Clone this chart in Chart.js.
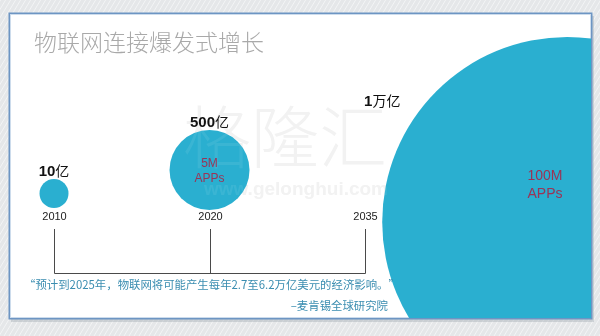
<!DOCTYPE html>
<html>
<head>
<meta charset="utf-8">
<script src="https://cdn.jsdelivr.net/npm/chart.js@4.4.1/dist/chart.umd.min.js"></script>
<style>
  html, body { margin: 0; padding: 0; background: #e6e8ea; }
  #wrap { width: 600px; height: 336px; }
</style>
</head>
<body>
<div id="wrap"><canvas id="c" width="600" height="336"></canvas></div>
<script>
// ---- data ----
const years = ['2010', '2020', '2035'];
const connections = ['10', '500', '1'];          // numeric part of each label
const connectionUnits = ['亿', '亿', '万亿'];
const appCounts = ['', '5M', '100M'];
const titleText = '物联网连接爆发式增长';
const quoteText = '“预计到2025年，物联网将可能产生每年2.7至6.2万亿美元的经济影响。”';
const quoteSource = '–麦肯锡全球研究院';

// ---- layout of the circles (timeline units on x, lift above slide bottom on y) ----
const bubbleLayout = [
  { x: 0,   y: 124.5, r: 14.5 },
  { x: 1,   y: 148,   r: 40 },
  { x: 3.3, y: 96,    r: 185 }
];
const appTextPos = [null, { x: 1, y: 147 }, { x: 3.157, y: 133 }];

const BUBBLE = '#2aafd0';
const APP_TEXT = '#9a3456';
const CJK = '"Noto Sans CJK SC", "Noto Sans", sans-serif';
const LATIN = '"Liberation Sans", Arial, sans-serif';

const slidePlugin = {
  id: 'slide',
  beforeDraw(chart) {
    const ctx = chart.ctx;
    const W = chart.width, H = chart.height;
    ctx.save();
    // textured grey backdrop
    ctx.fillStyle = '#e5e7e9';
    ctx.fillRect(0, 0, W, H);
    ctx.strokeStyle = 'rgba(255,255,255,0.55)';
    ctx.lineWidth = 1;
    for (let k = -H; k < W + H; k += 5) {
      ctx.beginPath();
      ctx.moveTo(k, H);
      ctx.lineTo(k + H * 0.6, 0);
      ctx.stroke();
    }
    // white panel with shadow and blue frame
    ctx.fillStyle = 'rgba(150,160,170,0.35)';
    ctx.fillRect(11, 16, 583, 306);
    ctx.fillStyle = '#ffffff';
    ctx.fillRect(9, 13, 583, 306);
    ctx.strokeStyle = '#6d95c3';
    ctx.lineWidth = 1.5;
    ctx.strokeRect(9.25, 13.25, 582.5, 305.5);
    ctx.strokeStyle = '#cddcec';
    ctx.lineWidth = 1;
    ctx.strokeRect(10.5, 14.5, 580, 303);

    // heading
    ctx.fillStyle = '#a9a9a9';
    ctx.font = '300 23px ' + CJK;
    ctx.textAlign = 'left';
    ctx.textBaseline = 'middle';
    ctx.fillText(titleText, 34, 42);

    // faint site mark
    ctx.fillStyle = 'rgba(200,200,200,0.26)';
    ctx.font = '200 68px ' + CJK;
    ctx.textAlign = 'center';
    ctx.fillText('格隆汇', 285, 137);
    ctx.font = 'bold 19px ' + LATIN;
    ctx.fillText('www.gelonghui.com', 296, 190);

    // timeline under the years
    const xs = chart.scales.x;
    const tx = years.map((_, i) => Math.round(xs.getPixelForValue(i)) + 0.5);
    ctx.strokeStyle = '#4a4a4a';
    ctx.lineWidth = 1;
    ctx.beginPath();
    tx.forEach(px => { ctx.moveTo(px, 229); ctx.lineTo(px, 273.5); });
    ctx.moveTo(tx[0], 273.5);
    ctx.lineTo(tx[tx.length - 1], 273.5);
    ctx.stroke();

    ctx.fillStyle = '#222';
    ctx.font = '11px ' + LATIN;
    ctx.textAlign = 'center';
    ctx.textBaseline = 'middle';
    years.forEach((y, i) => ctx.fillText(y, tx[i], 217));
    ctx.restore();
  },
  afterDatasetsDraw(chart) {
    const ctx = chart.ctx;
    const xs = chart.scales.x, ys = chart.scales.y;
    const area = chart.chartArea;
    const pts = chart.getDatasetMeta(0).data;
    ctx.save();

    // the site mark shows through the circles as a light veil
    ctx.fillStyle = 'rgba(255,255,255,0.08)';
    ctx.textAlign = 'center';
    ctx.textBaseline = 'middle';
    ctx.font = '200 68px ' + CJK;
    ctx.fillText('格隆汇', 285, 137);
    ctx.font = 'bold 19px ' + LATIN;
    ctx.fillText('www.gelonghui.com', 296, 190);

    // quotation
    ctx.fillStyle = '#3a8db0';
    ctx.font = '11.4px ' + CJK;
    ctx.textAlign = 'left';
    ctx.fillText(quoteText, 24, 285);
    ctx.textAlign = 'right';
    ctx.fillText(quoteSource, 388, 306);

    // app counts inside circles
    ctx.beginPath();
    ctx.rect(area.left, area.top, area.right - area.left, area.bottom - area.top);
    ctx.clip();
    ctx.fillStyle = APP_TEXT;
    ctx.textAlign = 'center';
    appCounts.forEach((t, i) => {
      if (!t) return;
      const p = appTextPos[i];
      const px = xs.getPixelForValue(p.x), py = ys.getPixelForValue(p.y);
      ctx.font = (i === 2 ? '14px ' : '12px ') + LATIN;
      const gap = i === 2 ? 9 : 7.5;
      ctx.fillText(t, px, py - gap);
      ctx.fillText('APPs', px, py + gap);
    });

    // connection counts above circles
    pts.forEach((pt, i) => {
      const r = bubbleLayout[i].r;
      const big = r > 100;
      const cx = big ? pt.x - r : pt.x;
      const cy = big ? ys.getPixelForValue(217) : pt.y - r - 8;
      ctx.font = 'bold 15px ' + LATIN;
      const numW = ctx.measureText(connections[i]).width;
      ctx.font = '14px ' + CJK;
      const unitW = ctx.measureText(connectionUnits[i]).width;
      const x0 = cx - (numW + unitW) / 2;
      ctx.fillStyle = '#111';
      ctx.textAlign = 'left';
      ctx.textBaseline = 'middle';
      ctx.font = 'bold 15px ' + LATIN;
      ctx.fillText(connections[i], x0, cy + 1);
      ctx.font = '14px ' + CJK;
      ctx.fillText(connectionUnits[i], x0 + numW, cy);
    });
    ctx.restore();
  }
};

new Chart(document.getElementById('c'), {
  type: 'bubble',
  data: {
    datasets: [{
      data: bubbleLayout.map(b => ({ x: b.x, y: b.y, r: b.r })),
      backgroundColor: BUBBLE,
      borderWidth: 0,
      hoverRadius: 0,
      clip: 0
    }]
  },
  options: {
    responsive: false,
    animation: false,
    events: [],
    layout: { autoPadding: false, padding: { left: 10, top: 14, right: 9, bottom: 18 } },
    scales: {
      x: { type: 'linear', display: false, min: -0.283, max: 3.453 },
      y: { type: 'linear', display: false, min: 0, max: 304 }
    },
    plugins: { legend: { display: false }, tooltip: { enabled: false }, title: { display: false } }
  },
  plugins: [slidePlugin]
});
</script>
</body>
</html>
